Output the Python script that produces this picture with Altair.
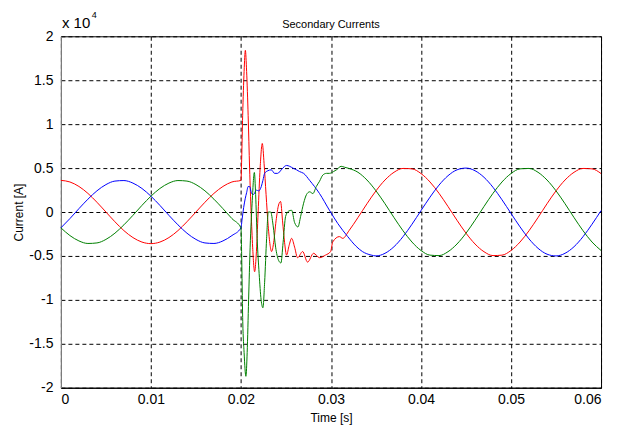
import altair as alt
import pandas as pd

chart_title = "Secondary Currents"
x_title = "Time [s]"
y_title = "Current [A]"
x_ticks = [0, 0.01, 0.02, 0.03, 0.04, 0.05, 0.06]
y_ticks = [-2, -1.5, -1, -0.5, 0, 0.5, 1, 1.5, 2]

# values in units of 10^4 A
pre_t = [0.000, 0.001, 0.002, 0.003, 0.004, 0.005, 0.006, 0.007, 0.008, 0.009, 0.010,
         0.011, 0.012, 0.013, 0.014, 0.015, 0.016, 0.017, 0.018, 0.019, 0.020]
red_pre = [0.36, 0.342, 0.291, 0.212, 0.111, 0.0, -0.111, -0.212, -0.291, -0.342, -0.36,
           -0.342, -0.291, -0.212, -0.111, 0.0, 0.111, 0.212, 0.291, 0.342, 0.36]
blue_pre = [-0.18, -0.075, 0.038, 0.146, 0.241, 0.312, 0.352, 0.358, 0.329, 0.268, 0.18,
            0.075, -0.038, -0.146, -0.241, -0.312, -0.352, -0.358, -0.329, -0.268, -0.18]
green_pre = [-0.18, -0.268, -0.329, -0.358, -0.352, -0.312, -0.241, -0.146, -0.038, 0.075, 0.18,
             0.268, 0.329, 0.358, 0.352, 0.312, 0.241, 0.146, 0.038, -0.075, -0.18]

red_tr_t = [0.02008, 0.02019, 0.02035, 0.02049, 0.02063, 0.02080, 0.02096, 0.02113, 0.02130,
            0.02152, 0.02169, 0.02191, 0.02213, 0.02237, 0.02257, 0.02279, 0.02302, 0.02324,
            0.02340, 0.02363, 0.02390, 0.02418, 0.02440, 0.02462, 0.02485, 0.02507, 0.02535,
            0.02563, 0.02596, 0.02629, 0.02685, 0.02740, 0.02807, 0.02873, 0.02940, 0.02996,
            0.03020, 0.03094, 0.03131]
red_tr_y = [0.60, 1.10, 1.60, 1.84, 1.60, 1.10, 0.50, 0.00, -0.40,
            -0.68, -0.50, 0.00, 0.50, 0.78, 0.55, 0.20, -0.15, -0.38,
            -0.45, -0.35, -0.10, 0.08, 0.12, -0.10, -0.35, -0.49, -0.38,
            -0.30, -0.40, -0.52, -0.45, -0.57, -0.47, -0.52, -0.49, -0.45,
            -0.34, -0.28, -0.30]

green_tr_t = [0.02008, 0.02019, 0.02035, 0.02055, 0.02069, 0.02085, 0.02102, 0.02124, 0.02149,
              0.02163, 0.02180, 0.02202, 0.02224, 0.02244, 0.02263, 0.02285, 0.02304, 0.02330,
              0.02357, 0.02385, 0.02418, 0.02444, 0.02468, 0.02496, 0.02529, 0.02563, 0.02596,
              0.02633, 0.02663, 0.02696, 0.02729, 0.02763, 0.02799, 0.02837, 0.02873, 0.02909,
              0.02950, 0.02983, 0.03028, 0.03061, 0.03113, 0.03150]
green_tr_y = [-0.50, -1.20, -1.60, -1.87, -1.60, -1.00, -0.40, 0.10, 0.45,
              0.20, -0.30, -0.70, -1.00, -1.09, -0.80, -0.30, 0.00, 0.00,
              -0.15, -0.40, -0.55, -0.58, -0.35, -0.05, 0.01, 0.02, -0.12,
              -0.17, -0.05, 0.10, 0.20, 0.23, 0.21, 0.29, 0.35, 0.42,
              0.44, 0.44, 0.46, 0.48, 0.52, 0.51]

blue_tr_t = [0.02013, 0.02030, 0.02047, 0.02063, 0.02080, 0.02096, 0.02119, 0.02141, 0.02171,
             0.02196, 0.02226, 0.02244, 0.02263, 0.02299, 0.02337, 0.02374, 0.02407, 0.02448,
             0.02485, 0.02507, 0.02541, 0.02577, 0.02618, 0.02651, 0.02696, 0.02763, 0.02873,
             0.02983, 0.03075, 0.03186, 0.03279, 0.03349, 0.03446]
blue_tr_y = [-0.08, 0.05, 0.15, 0.22, 0.29, 0.29, 0.21, 0.20, 0.25,
             0.24, 0.29, 0.36, 0.44, 0.47, 0.48, 0.44, 0.44, 0.48,
             0.52, 0.53, 0.52, 0.50, 0.48, 0.46, 0.44, 0.36, 0.21,
             0.02, -0.13, -0.28, -0.39, -0.45, -0.49]

post_t = [0.032, 0.033, 0.034, 0.035, 0.036, 0.037, 0.038, 0.039, 0.040, 0.041, 0.042,
          0.043, 0.044, 0.045, 0.046, 0.047, 0.048, 0.049, 0.050, 0.051, 0.052, 0.053,
          0.054, 0.055, 0.056, 0.057, 0.058, 0.059, 0.060]
red_post = [-0.213, -0.063, 0.094, 0.241, 0.364, 0.452, 0.496, 0.491, 0.438, 0.342, 0.213,
            0.063, -0.094, -0.241, -0.364, -0.452, -0.496, -0.491, -0.438, -0.342, -0.213,
            -0.063, 0.094, 0.241, 0.364, 0.452, 0.496, 0.491, 0.438]
green_post = [0.496, 0.452, 0.364, 0.241, 0.094, -0.063, -0.213, -0.342, -0.438, -0.491, -0.496,
              -0.452, -0.364, -0.241, -0.094, 0.063, 0.213, 0.342, 0.438, 0.491, 0.496,
              0.452, 0.364, 0.241, 0.094, -0.063, -0.213, -0.342, -0.438]
blue_post_t = [0.035, 0.036, 0.037, 0.038, 0.039, 0.040, 0.041, 0.042, 0.043, 0.044, 0.045,
               0.046, 0.047, 0.048, 0.049, 0.050, 0.051, 0.052, 0.053, 0.054, 0.055, 0.056,
               0.057, 0.058, 0.059, 0.060]
blue_post = [-0.5, -0.47, -0.395, -0.281, -0.139, 0.016, 0.169, 0.306, 0.413, 0.48, 0.5,
             0.47, 0.395, 0.281, 0.139, -0.016, -0.169, -0.306, -0.413, -0.48, -0.5, -0.47,
             -0.395, -0.281, -0.139, 0.016]


def build(name, t_parts, y_parts):
    rows = []
    for ts, ys in zip(t_parts, y_parts):
        for t, y in zip(ts, ys):
            rows.append({"t": t, "y": y, "phase": name})
    return pd.DataFrame(rows)


red_df = build("red", [pre_t, red_tr_t, post_t], [red_pre, red_tr_y, red_post])
blue_df = build("blue", [pre_t, blue_tr_t, blue_post_t], [blue_pre, blue_tr_y, blue_post])
green_df = build("green", [pre_t, green_tr_t, post_t], [green_pre, green_tr_y, green_post])

FONT = "Liberation Sans"

x_enc = alt.X("t:Q", scale=alt.Scale(domain=[0, 0.06], nice=False, zero=False),
              axis=alt.Axis(values=x_ticks, title=x_title, labelExpr="'' + datum.value",
                            labelPadding=5, titleX=270.5, titleY=34,
                            titleBaseline="alphabetic", titleAlign="center"))
y_enc = alt.Y("y:Q", scale=alt.Scale(domain=[-2, 2], nice=False, zero=False),
              axis=alt.Axis(values=y_ticks, title=y_title, labelExpr="'' + datum.value",
                            labelPadding=8, titleAngle=-90, titleX=-38, titleY=176,
                            titleBaseline="alphabetic", titleAlign="center",
                            domainColor="#888888"))


def line(df, color):
    return alt.Chart(df).mark_line(color=color, strokeWidth=1, interpolate="monotone").encode(
        x=x_enc, y=y_enc)


title_df = pd.DataFrame({"label": [chart_title]})
exp_df = pd.DataFrame({"label": ["x 10"]})
sup_df = pd.DataFrame({"label": ["4"]})

title_mark = alt.Chart(title_df).mark_text(align="center", baseline="alphabetic", fontSize=11,
                                           font=FONT, color="black").encode(
    x=alt.value(270.5), y=alt.value(-8), text="label:N")
exp_mark = alt.Chart(exp_df).mark_text(align="left", baseline="alphabetic", fontSize=15,
                                       font=FONT, color="black").encode(
    x=alt.value(1), y=alt.value(-8), text="label:N")
sup_mark = alt.Chart(sup_df).mark_text(align="left", baseline="alphabetic", fontSize=9,
                                       font=FONT, color="black").encode(
    x=alt.value(31), y=alt.value(-18), text="label:N")

chart = alt.layer(
    line(red_df, "#ff0000"),
    line(blue_df, "#0000ff"),
    line(green_df, "#008000"),
    title_mark, exp_mark, sup_mark,
).properties(
    width=541, height=352,
    autosize=alt.AutoSizeParams(type="none"),
    padding={"left": 53, "top": 28, "right": 20, "bottom": 37},
    background="white",
).configure_view(
    stroke="black", strokeWidth=1
).configure_axis(
    grid=True, gridColor="black", gridDash=[4, 3], gridOpacity=1, gridWidth=1,
    ticks=False, domain=True, domainColor="black",
    labelFont=FONT, labelFontSize=14, labelColor="black",
    titleFont=FONT, titleFontSize=12, titleFontWeight="normal", titleColor="black",
)

chart.save("out.html", embed_options={"renderer": "svg", "actions": False})
